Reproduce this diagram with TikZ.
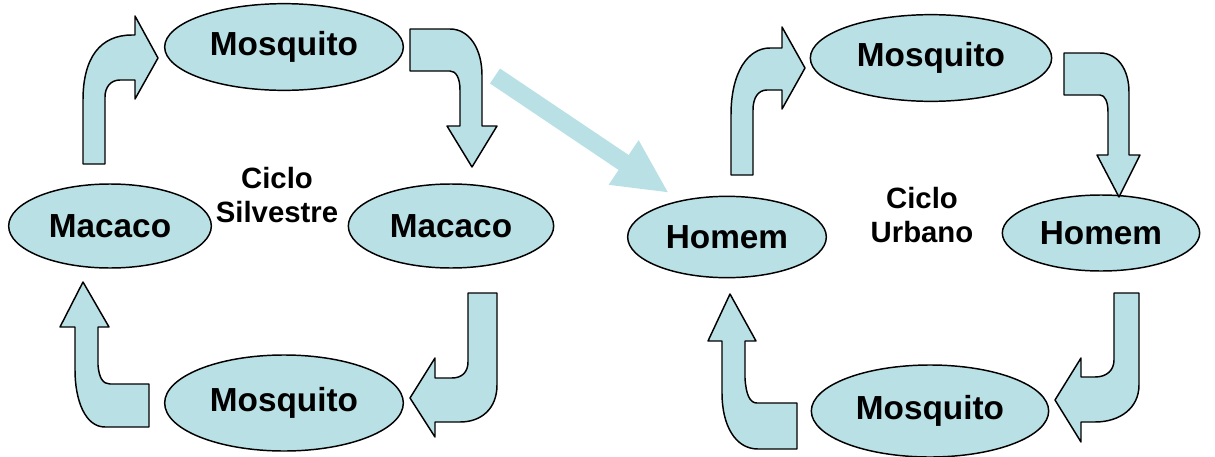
\documentclass[tikz,border=0pt]{standalone}
\usepackage{fontspec}
\setmainfont{Liberation Sans}
\usepackage{tikz}
\usetikzlibrary{shapes.geometric,arrows.meta}

\definecolor{azul}{RGB}{185,224,228}

\tikzset{
  bicho/.style={ellipse, draw=black, fill=azul, line width=1.1pt, inner sep=0pt,
    font=\bfseries\fontsize{25}{30}\selectfont},
  seta/.style={draw=black, fill=azul, line width=1.1pt, line join=round},
  ciclo/.style={align=center, font=\bfseries\fontsize{22}{25.5}\selectfont}
}

\begin{document}
\begin{tikzpicture}[x=0.75pt,y=-0.75pt]

\useasboundingbox (0,0) rectangle (1215,457);

% ciclo silvestre
\node [bicho, minimum width=179pt, minimum height=65pt] (mosqA) at (284,47) {Mosquito};
\node [bicho, minimum width=152pt, minimum height=63pt] (macA) at (110,226) {Macaco};
\node [bicho, minimum width=154pt, minimum height=63pt] (macB) at (451,226) {Macaco};
\node [bicho, minimum width=179pt, minimum height=72pt] (mosqB) at (284,403) {Mosquito};
\node [ciclo] (silv) at (277,195) {Ciclo\\Silvestre};

\draw [seta] (83,164) -- (83,100) .. controls (83,58) and (100,35) .. (132,35) -- (135,35)
  -- (135,16) -- (158,58) -- (135,99) -- (135,80) -- (120,80)
  .. controls (110,80) and (105,88) .. (105,97) -- (105,164) -- cycle;
\draw [seta] (410,29) -- (450,29) .. controls (470,29) and (482,50) .. (482,75) -- (482,126)
  -- (497,126) -- (472,167) -- (447,126) -- (460,126) -- (460,90)
  .. controls (460,78) and (456,71) .. (450,71) -- (410,71) -- cycle;
\draw [seta] (468,293) -- (497,293) -- (497,385) .. controls (497,408) and (482,422) .. (460,422)
  -- (435,422) -- (435,437) -- (410,398) -- (435,358) -- (435,378) -- (452,378)
  .. controls (462,378) and (468,372) .. (468,362) -- cycle;
\draw [seta] (149,384) -- (149,427) -- (105,427) .. controls (85,427) and (75,400) .. (75,370)
  -- (75,327) -- (60,327) -- (83,282) -- (109,327) -- (98,327) -- (98,365)
  .. controls (99,378) and (103,384) .. (110,384) -- cycle;

% passagem para o ciclo urbano
\coordinate (saida) at (495,76);
\coordinate (chegada) at (669,193);
\draw [azul, line width=13.5pt, -{Triangle[width=37pt,length=41pt]}] (saida) -- (chegada);

% ciclo urbano
\node [bicho, minimum width=181pt, minimum height=65pt] (mosqC) at (931,58) {Mosquito};
\node [bicho, minimum width=149pt, minimum height=61pt] (homA) at (727,237) {Homem};
\node [bicho, minimum width=148pt, minimum height=57pt] (homB) at (1101,233) {Homem};
\node [bicho, minimum width=178pt, minimum height=69pt] (mosqD) at (930,411) {Mosquito};
\node [ciclo] (urb) at (922,215) {Ciclo\\Urbano};

\draw [seta] (731,175) -- (731,115) .. controls (731,72) and (748,48) .. (770,48) -- (782,48)
  -- (782,27) -- (805,68) -- (782,109) -- (782,90) -- (767,90)
  .. controls (758,90) and (753,98) .. (753,110) -- (753,175) -- cycle;
\draw [seta] (1064,53) -- (1100,53) .. controls (1118,53) and (1129,70) .. (1129,92) -- (1129,155)
  -- (1140,155) -- (1119,197) -- (1097,155) -- (1108,155) -- (1108,112)
  .. controls (1108,102) and (1105,95) .. (1100,95) -- (1064,95) -- cycle;
\draw [seta] (1114,293) -- (1139,293) -- (1139,385) .. controls (1139,408) and (1120,422) .. (1095,422)
  -- (1081,422) -- (1081,442) -- (1055,400) -- (1081,358) -- (1081,377) -- (1095,377)
  .. controls (1107,377) and (1114,370) .. (1114,360) -- cycle;
\draw [seta] (797,403) -- (797,449) -- (758,449) .. controls (735,449) and (722,425) .. (722,393)
  -- (722,341) -- (708,341) -- (730,294) -- (756,341) -- (745,341) -- (745,378)
  .. controls (746,395) and (750,403) .. (757,403) -- cycle;

\end{tikzpicture}
\end{document}
